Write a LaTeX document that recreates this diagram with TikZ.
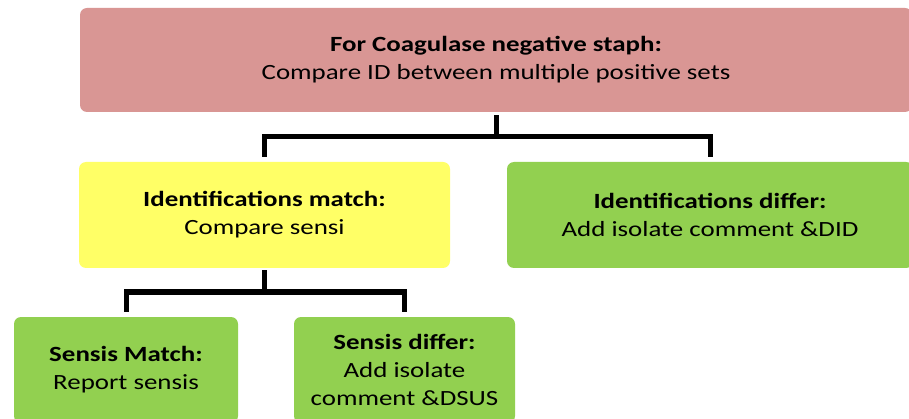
\documentclass[tikz,border=0pt]{standalone}
\usepackage{fontspec}
\setmainfont{Carlito}[FakeStretch=1.24]
\definecolor{pinkbox}{HTML}{D99694}
\definecolor{yellowbox}{HTML}{FFFF66}
\definecolor{greenbox}{HTML}{92D050}
\tikzset{
  box/.style={rectangle, rounded corners=7pt, inner sep=0pt, align=center,
    font=\fontsize{21.7}{28}\selectfont, minimum height=106pt},
  conn/.style={line width=5pt, draw=black},
}
\begin{document}
\begin{tikzpicture}[x=1pt,y=-1pt]
\useasboundingbox (0,0) rectangle (909,419);
\clip (0,0) rectangle (909,419);
\fill[white] (0,0) rectangle (909,419);
\node[box, fill=pinkbox, minimum width=832pt, minimum height=104pt] (top) at (496,60)
  {\textbf{For Coagulase negative staph:}\\Compare ID between multiple positive sets};
\node[box, fill=yellowbox, minimum width=371pt] (idm) at (264.5,215)
  {\textbf{Identifications match:}\\Compare sensi};
\node[box, fill=greenbox, minimum width=406pt] (idd) at (710,215)
  {\textbf{Identifications differ:}\\Add isolate comment \&DID};
\node[box, fill=greenbox, minimum width=224pt] (sm) at (126,370)
  {\textbf{Sensis Match:}\\Report sensis};
\node[box, fill=greenbox, minimum width=221pt] (sd) at (404.5,370)
  {\textbf{Sensis differ:}\\Add isolate\\comment \&DSUS};
\coordinate (j1) at (496,137);
\coordinate (j2) at (264.5,292);
\draw[conn, shorten <=3pt] (top.south) -- (j1);
\draw[conn, shorten <=5pt, shorten >=5pt] (idm.north) |- (j1) -| (idd.north);
\draw[conn, shorten <=2pt] (idm.south) -- (j2);
\draw[conn, shorten <=5pt, shorten >=5pt] (sm.north) |- (j2) -| (sd.north);
\end{tikzpicture}
\end{document}
